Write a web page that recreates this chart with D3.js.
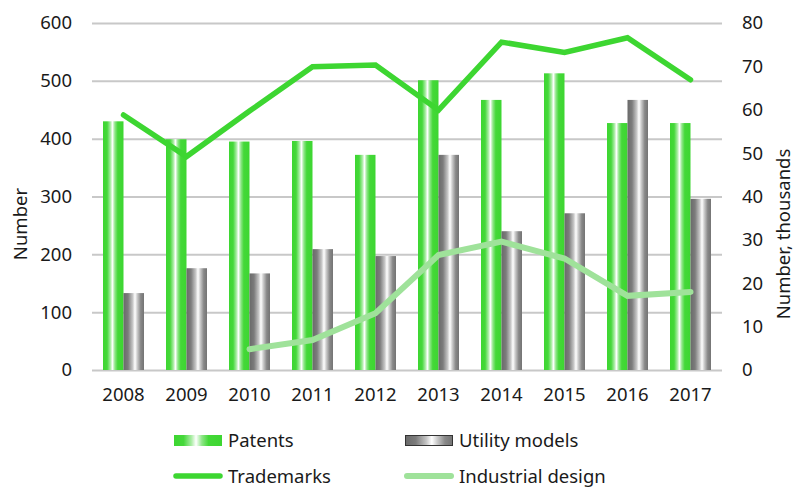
<!DOCTYPE html>
<html>
<head>
<meta charset="utf-8">
<script src="https://cdn.jsdelivr.net/npm/d3@7"></script>
<style>
  body { margin: 0; background: #fff; }
  svg text { font-family: "Noto Sans", sans-serif; fill: #1a1a1a; }
</style>
</head>
<body>
<div class="canvas"></div>
<script>
const years = ['2008', '2009', '2010', '2011', '2012', '2013', '2014', '2015', '2016', '2017'];
const patents = [430, 399, 395, 396, 372, 501, 467, 513, 427, 427];
const utilityModels = [133, 176, 167, 209, 197, 372, 240, 271, 467, 296];
// thousands, right axis
const trademarks = [58.8, 49.2, 59.7, 69.9, 70.3, 59.9, 75.6, 73.2, 76.6, 66.9];
const industrialDesign = [null, null, 4.8, 6.9, 13.1, 26.5, 29.6, 25.7, 17.1, 18.0];
const leftTicks = [0, 100, 200, 300, 400, 500, 600];
const rightTicks = [0, 10, 20, 30, 40, 50, 60, 70, 80];

const width = 798, height = 488;
const plot = { left: 92, right: 722, top: 23, bottom: 370 };

const svg = d3.select('.canvas').append('svg')
    .attr('width', width)
    .attr('height', height);

// gradients for the bars
const defs = svg.append('defs');
const addGrad = (id, stops) => {
    const g = defs.append('linearGradient').attr('id', id)
        .attr('x1', '0%').attr('x2', '100%').attr('y1', '0%').attr('y2', '0%');
    stops.forEach(s => g.append('stop').attr('offset', s[0]).attr('stop-color', s[1]));
};
addGrad('gPat', [['0%', '#3dd631'], ['20%', '#45d83a'], ['36%', '#a8eca2'], ['46%', '#ffffff'], ['58%', '#8fe688'], ['72%', '#44d838'], ['100%', '#3dd631']]);
addGrad('gUtil', [['0%', '#6a6a6a'], ['22%', '#7c7c7c'], ['44%', '#c4c4c4'], ['56%', '#ffffff'], ['68%', '#c8c8c8'], ['84%', '#888888'], ['100%', '#747474']]);

const x = d3.scaleBand()
    .domain(years)
    .range([plot.left, plot.right])
    .padding(0);

const y = d3.scaleLinear().domain([0, 600]).range([plot.bottom, plot.top]);
const y2 = d3.scaleLinear().domain([0, 80]).range([plot.bottom, plot.top]);

// grid + left axis
const yAxisGroup = svg.append('g')
    .attr('transform', `translate(${plot.left},0)`)
    .call(d3.axisLeft(y).tickValues(leftTicks).tickSize(-(plot.right - plot.left)).tickPadding(20));
yAxisGroup.select('.domain').remove();
yAxisGroup.selectAll('line').attr('stroke', '#c8c8c8').attr('stroke-width', 2);
yAxisGroup.selectAll('text').attr('font-size', 18.5).attr('fill', '#1a1a1a');

const y2AxisGroup = svg.append('g')
    .attr('transform', `translate(${plot.right},0)`)
    .call(d3.axisRight(y2).tickValues(rightTicks).tickSize(0).tickPadding(20));
y2AxisGroup.select('.domain').remove();
y2AxisGroup.selectAll('text').attr('font-size', 18.5).attr('fill', '#1a1a1a');

const xAxisGroup = svg.append('g')
    .attr('transform', `translate(0,${plot.bottom})`)
    .call(d3.axisBottom(x).tickSize(0).tickPadding(18));
xAxisGroup.select('.domain').remove();
xAxisGroup.selectAll('text').attr('font-size', 18.5).attr('fill', '#1a1a1a');

// bars
const bw = 20.5;
const mid = d => x(d) + x.bandwidth() / 2;

svg.append('g').selectAll('rect')
    .data(years)
    .enter().append('rect')
    .attr('x', d => mid(d) - bw)
    .attr('width', bw)
    .attr('y', (d, i) => y(patents[i]))
    .attr('height', (d, i) => plot.bottom - y(patents[i]))
    .attr('fill', 'url(#gPat)');

svg.append('g').selectAll('rect')
    .data(years)
    .enter().append('rect')
    .attr('x', d => mid(d))
    .attr('width', bw)
    .attr('y', (d, i) => y(utilityModels[i]))
    .attr('height', (d, i) => plot.bottom - y(utilityModels[i]))
    .attr('fill', 'url(#gUtil)');

// lines
const line = d3.line()
    .defined(d => d.v != null)
    .x(d => mid(d.year))
    .y(d => y2(d.v));

svg.append('path')
    .datum(years.map((yr, i) => ({ year: yr, v: industrialDesign[i] })))
    .attr('d', line)
    .attr('fill', 'none')
    .attr('stroke', '#9fe29a')
    .attr('stroke-width', 6)
    .attr('stroke-linecap', 'round');

svg.append('path')
    .datum(years.map((yr, i) => ({ year: yr, v: trademarks[i] })))
    .attr('d', line)
    .attr('fill', 'none')
    .attr('stroke', '#3dd631')
    .attr('stroke-width', 5.5)
    .attr('stroke-linecap', 'round');

// axis titles
svg.append('text')
    .attr('transform', 'translate(27,224) rotate(-90)')
    .attr('text-anchor', 'middle')
    .attr('font-size', 18.5)
    .text('Number');

svg.append('text')
    .attr('transform', 'translate(790,234) rotate(-90)')
    .attr('text-anchor', 'middle')
    .attr('font-size', 18.5)
    .text('Number, thousands');

// legend
const legend = svg.append('g');
legend.append('rect').attr('x', 174).attr('y', 435).attr('width', 48).attr('height', 11).attr('fill', 'url(#gPat)');
legend.append('text').attr('x', 228).attr('y', 447).attr('font-size', 18.5).text('Patents');
legend.append('rect').attr('x', 405.5).attr('y', 435.5).attr('width', 47).attr('height', 10)
    .attr('fill', 'url(#gUtil)').attr('stroke', '#333').attr('stroke-width', 1);
legend.append('text').attr('x', 459).attr('y', 447).attr('font-size', 18.5).text('Utility models');
legend.append('line').attr('x1', 176).attr('x2', 220).attr('y1', 476).attr('y2', 476)
    .attr('stroke', '#3dd631').attr('stroke-width', 5.5).attr('stroke-linecap', 'round');
legend.append('text').attr('x', 228).attr('y', 482.5).attr('font-size', 18.5).text('Trademarks');
legend.append('line').attr('x1', 407).attr('x2', 451).attr('y1', 476).attr('y2', 476)
    .attr('stroke', '#9fe29a').attr('stroke-width', 6).attr('stroke-linecap', 'round');
legend.append('text').attr('x', 459).attr('y', 482.5).attr('font-size', 18.5).text('Industrial design');
</script>
</body>
</html>
